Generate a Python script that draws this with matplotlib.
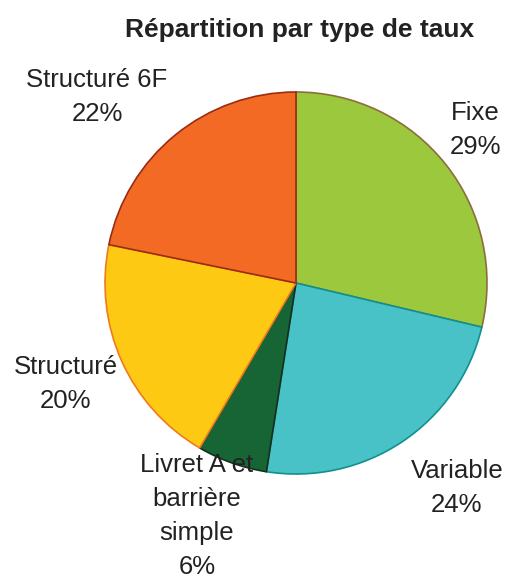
import matplotlib.pyplot as plt

plt.rcParams['font.family'] = ['Liberation Sans', 'DejaVu Sans']

categories = ['Fixe', 'Variable', 'Livret A et\nbarrière\nsimple', 'Structuré', 'Structuré 6F']
shares = [29, 24, 6, 20, 22]
colors = ['#9BC83C', '#48C2C7', '#176535', '#FDC913', '#F26A23']
edges = ['#8C6E3C', '#10908F', '#14301C', '#F07A1E', '#9A2C16']

# label anchor positions in pixels (x, y from top), alignment
label_pos = [(501, 130, 'right'), (457, 488, 'center'), (197, 516, 'center'),
             (66, 384, 'center'), (97, 97, 'center')]

W, H = 506, 577
fig = plt.figure(figsize=(W / 100, H / 100), dpi=100)
ax = fig.add_axes([0, 0, 1, 1])

wedges, _ = ax.pie(shares, colors=colors, startangle=90, counterclock=False,
                   center=(296, H - 283), radius=191,
                   wedgeprops=dict(linewidth=1.2))
for w, ec in zip(wedges, edges):
    w.set_edgecolor(ec)

for cat, val, (x, y, ha) in zip(categories, shares, label_pos):
    ax.text(x, H - y, f'{cat}\n{val}%', ha=ha, va='center', fontsize=18.5,
            color='#222222', linespacing=1.51, multialignment='center')

ax.text(300, H - 30, 'Répartition par type de taux', ha='center', va='center',
        fontsize=19, fontweight='bold', color='#222222')

ax.set_xlim(0, W)
ax.set_ylim(0, H)
ax.set_aspect('equal')
ax.axis('off')

fig.savefig('out.png', dpi=100)
